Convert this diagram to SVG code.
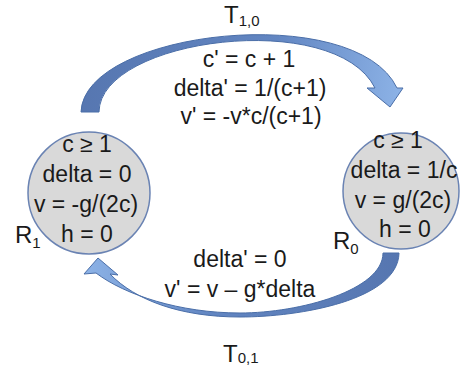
<svg xmlns="http://www.w3.org/2000/svg" width="461" height="370" viewBox="0 0 461 370">
  <defs>
    <style>
      text { font-family: "Liberation Sans", Arial, sans-serif; fill: #1a1a1a; }
      .eq { font-size: 23px; text-anchor: middle; }
      .lbl { font-size: 24px; }
      .sub { font-size: 15px; }
      .state { fill: #d9d9d9; stroke: #6a83b3; stroke-width: 1.5; }
      .arrow { stroke: #4a6ea8; stroke-width: 1; stroke-linejoin: round; }
    </style>
    <linearGradient id="gTop" gradientUnits="userSpaceOnUse" x1="80" y1="60" x2="400" y2="100">
      <stop offset="0" stop-color="#5676b0"/>
      <stop offset="0.6" stop-color="#6286c2"/>
      <stop offset="1" stop-color="#8cb2e6"/>
    </linearGradient>
    <linearGradient id="gBot" gradientUnits="userSpaceOnUse" x1="400" y1="270" x2="85" y2="270">
      <stop offset="0" stop-color="#5676b0"/>
      <stop offset="0.6" stop-color="#6286c2"/>
      <stop offset="1" stop-color="#8cb2e6"/>
    </linearGradient>
  </defs>

  <g id="connectors">
    <g id="T10">
      <path class="arrow" fill="url(#gTop)" d="M81,112 C84,30 355,0 397,88 L403,88 L390,107 L367,88 L375,88 C335,8 100,38 99,112 Z"/>
    </g>
    <g id="T01">
      <path class="arrow" fill="url(#gBot)" d="M399,253 C398,300 300,317 240,317 C180,317 135,300 110,274 L118,275 L98,258 L84,274 L96,273 C125,295 180,313 240,313 C300,313 383,290 383,253 Z"/>
    </g>
  </g>

  <g id="R1">
    <circle class="state" cx="89" cy="193" r="61"/>
    <text class="eq" x="87" y="152">c ≥ 1</text>
    <text class="eq" x="87" y="182">delta = 0</text>
    <text class="eq" x="86" y="212">v = -g/(2c)</text>
    <text class="eq" x="87" y="242">h = 0</text>
  </g>

  <g id="R0">
    <circle class="state" cx="401" cy="191" r="58"/>
    <text class="eq" x="398" y="148">c ≥ 1</text>
    <text class="eq" x="404" y="178">delta = 1/c</text>
    <text class="eq" x="403" y="208">v = g/(2c)</text>
    <text class="eq" x="405" y="237">h = 0</text>
  </g>

  <g id="labels">
    <text x="15" y="243" class="lbl">R<tspan class="sub" dy="5">1</tspan></text>
    <text x="333" y="249" class="lbl">R<tspan class="sub" dy="5">0</tspan></text>
    <text x="224" y="23" class="lbl">T<tspan class="sub" dy="3">1,0</tspan></text>
    <text x="223" y="362" class="lbl">T<tspan class="sub" dy="1">0,1</tspan></text>
  </g>

  <g id="T10-label">
    <text class="eq" x="249" y="67">c' = c + 1</text>
    <text class="eq" x="250" y="96">delta' = 1/(c+1)</text>
    <text class="eq" x="251" y="124">v' = -v*c/(c+1)</text>
  </g>

  <g id="T01-label">
    <text class="eq" x="240" y="267">delta' = 0</text>
    <text class="eq" x="240" y="297">v' = v – g*delta</text>
  </g>
</svg>
